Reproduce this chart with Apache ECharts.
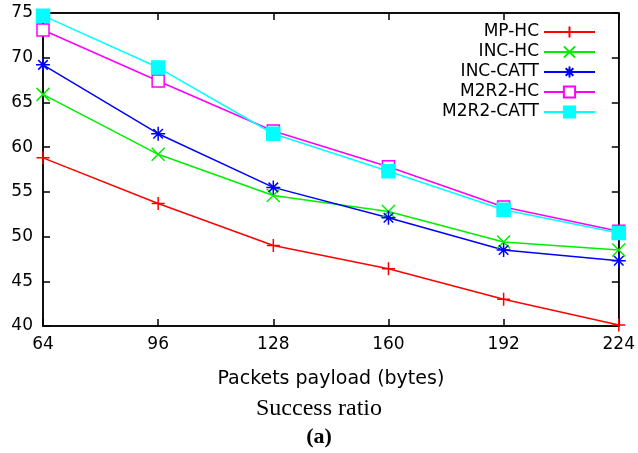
<!DOCTYPE html>
<html><head><meta charset="utf-8">
<script src="https://cdn.jsdelivr.net/npm/echarts@6/dist/echarts.min.js"></script>
<style>html,body{margin:0;padding:0;background:#fff}#c{width:638px;height:453px}</style>
</head><body><div id="c"></div>
<script>
const payloads = [64, 96, 128, 160, 192, 224];
const mpHC = [58.8, 53.7, 49.0, 46.4, 43.0, 40.1];
const incHC = [65.9, 59.2, 54.6, 52.8, 49.4, 48.5];
const incCATT = [69.2, 61.5, 55.5, 52.1, 48.5, 47.3];
const m2r2HC = [73.1, 67.4, 61.8, 57.8, 53.3, 50.6];
const m2r2CATT = [74.7, 68.9, 61.5, 57.3, 53.0, 50.4];
const yTicks = [40, 45, 50, 55, 60, 65, 70, 75];
const xTicks = [64, 96, 128, 160, 192, 224];

const P_PLUS = 'path://M0,5L10,5M5,0L5,10';
const P_X = 'path://M0,0L10,10M10,0L0,10';
const P_STAR = 'path://M0,5L10,5M5,0L5,10M1.6,1.6L8.4,8.4M8.4,1.6L1.6,8.4';

function mk(name, vals, color, symbol, size, fill) {
  return {
    name: name, type: 'line',
    data: payloads.map((x, i) => [x, vals[i]]),
    symbol: symbol, symbolSize: size,
    lineStyle: { color: color, width: 1.5 },
    itemStyle: { color: fill, borderColor: color, borderWidth: 1.5, opacity: 1 },
    emphasis: { disabled: true },
    animation: false, z: 3
  };
}

const chart = echarts.init(document.getElementById('c'), null, { renderer: 'canvas' });
const font = 'DejaVu Sans';
chart.setOption({
  animation: false,
  backgroundColor: '#fff',
  grid: { left: 43, right: 18, top: 13, bottom: 127, show: true, borderColor: '#000', borderWidth: 1.5 },
  xAxis: [{
    type: 'value', min: 64, max: 224, interval: 32,
    axisLine: { show: true, lineStyle: { color: '#000', width: 1.5 } },
    axisTick: { show: true, inside: true, length: 7, lineStyle: { color: '#000', width: 1.5 } },
    axisLabel: { color: '#000', fontFamily: font, fontSize: 17, margin: 10,
      formatter: v => xTicks.indexOf(v) >= 0 ? String(v) : '' },
    splitLine: { show: false },
    name: 'Packets payload (bytes)', nameLocation: 'middle', nameGap: 44,
    nameTextStyle: { color: '#000', fontFamily: font, fontSize: 19 }
  }, {
    type: 'value', min: 64, max: 224, interval: 32, position: 'top',
    axisLine: { show: true, lineStyle: { color: '#000', width: 1.5 } },
    axisTick: { show: true, inside: true, length: 7, lineStyle: { color: '#000', width: 1.5 } },
    axisLabel: { show: false }, splitLine: { show: false }
  }],
  yAxis: [{
    type: 'value', min: 40, max: 75, interval: 5,
    axisLine: { show: true, lineStyle: { color: '#000', width: 1.5 } },
    axisTick: { show: true, inside: true, length: 7, lineStyle: { color: '#000', width: 1.5 } },
    axisLabel: { color: '#000', fontFamily: font, fontSize: 17, margin: 10,
      formatter: v => yTicks.indexOf(v) >= 0 ? String(v) : '' },
    splitLine: { show: false }
  }, {
    type: 'value', min: 40, max: 75, interval: 5, position: 'right',
    axisLine: { show: true, lineStyle: { color: '#000', width: 1.5 } },
    axisTick: { show: true, inside: true, length: 7, lineStyle: { color: '#000', width: 1.5 } },
    axisLabel: { show: false }, splitLine: { show: false }
  }],
  legend: {
    orient: 'vertical', align: 'right', right: 37, top: 17,
    itemWidth: 51, itemHeight: 14, itemGap: 0,
    textStyle: { color: '#000', fontFamily: font, fontSize: 17, lineHeight: 20 },
    data: ['MP-HC', 'INC-HC', 'INC-CATT', 'M2R2-HC', 'M2R2-CATT']
  },
  title: [
    { text: 'Success ratio', left: 'center', top: 392,
      textStyle: { fontFamily: 'Liberation Serif', fontWeight: 'normal', fontSize: 24, color: '#000' } },
    { text: '(a)', left: 'center', top: 421,
      textStyle: { fontFamily: 'Liberation Serif', fontWeight: 'bold', fontSize: 22, color: '#000' } }
  ],
  series: [
    mk('MP-HC', mpHC, '#ff0000', P_PLUS, 13, '#ff0000'),
    mk('INC-HC', incHC, '#00ee00', P_X, 13, '#00ee00'),
    mk('INC-CATT', incCATT, '#0000ff', P_STAR, 14, '#0000ff'),
    mk('M2R2-HC', m2r2HC, '#ff00ff', 'rect', 12, '#ffffff'),
    mk('M2R2-CATT', m2r2CATT, '#00ffff', 'rect', 13, '#00ffff')
  ]
});
</script></body></html>
